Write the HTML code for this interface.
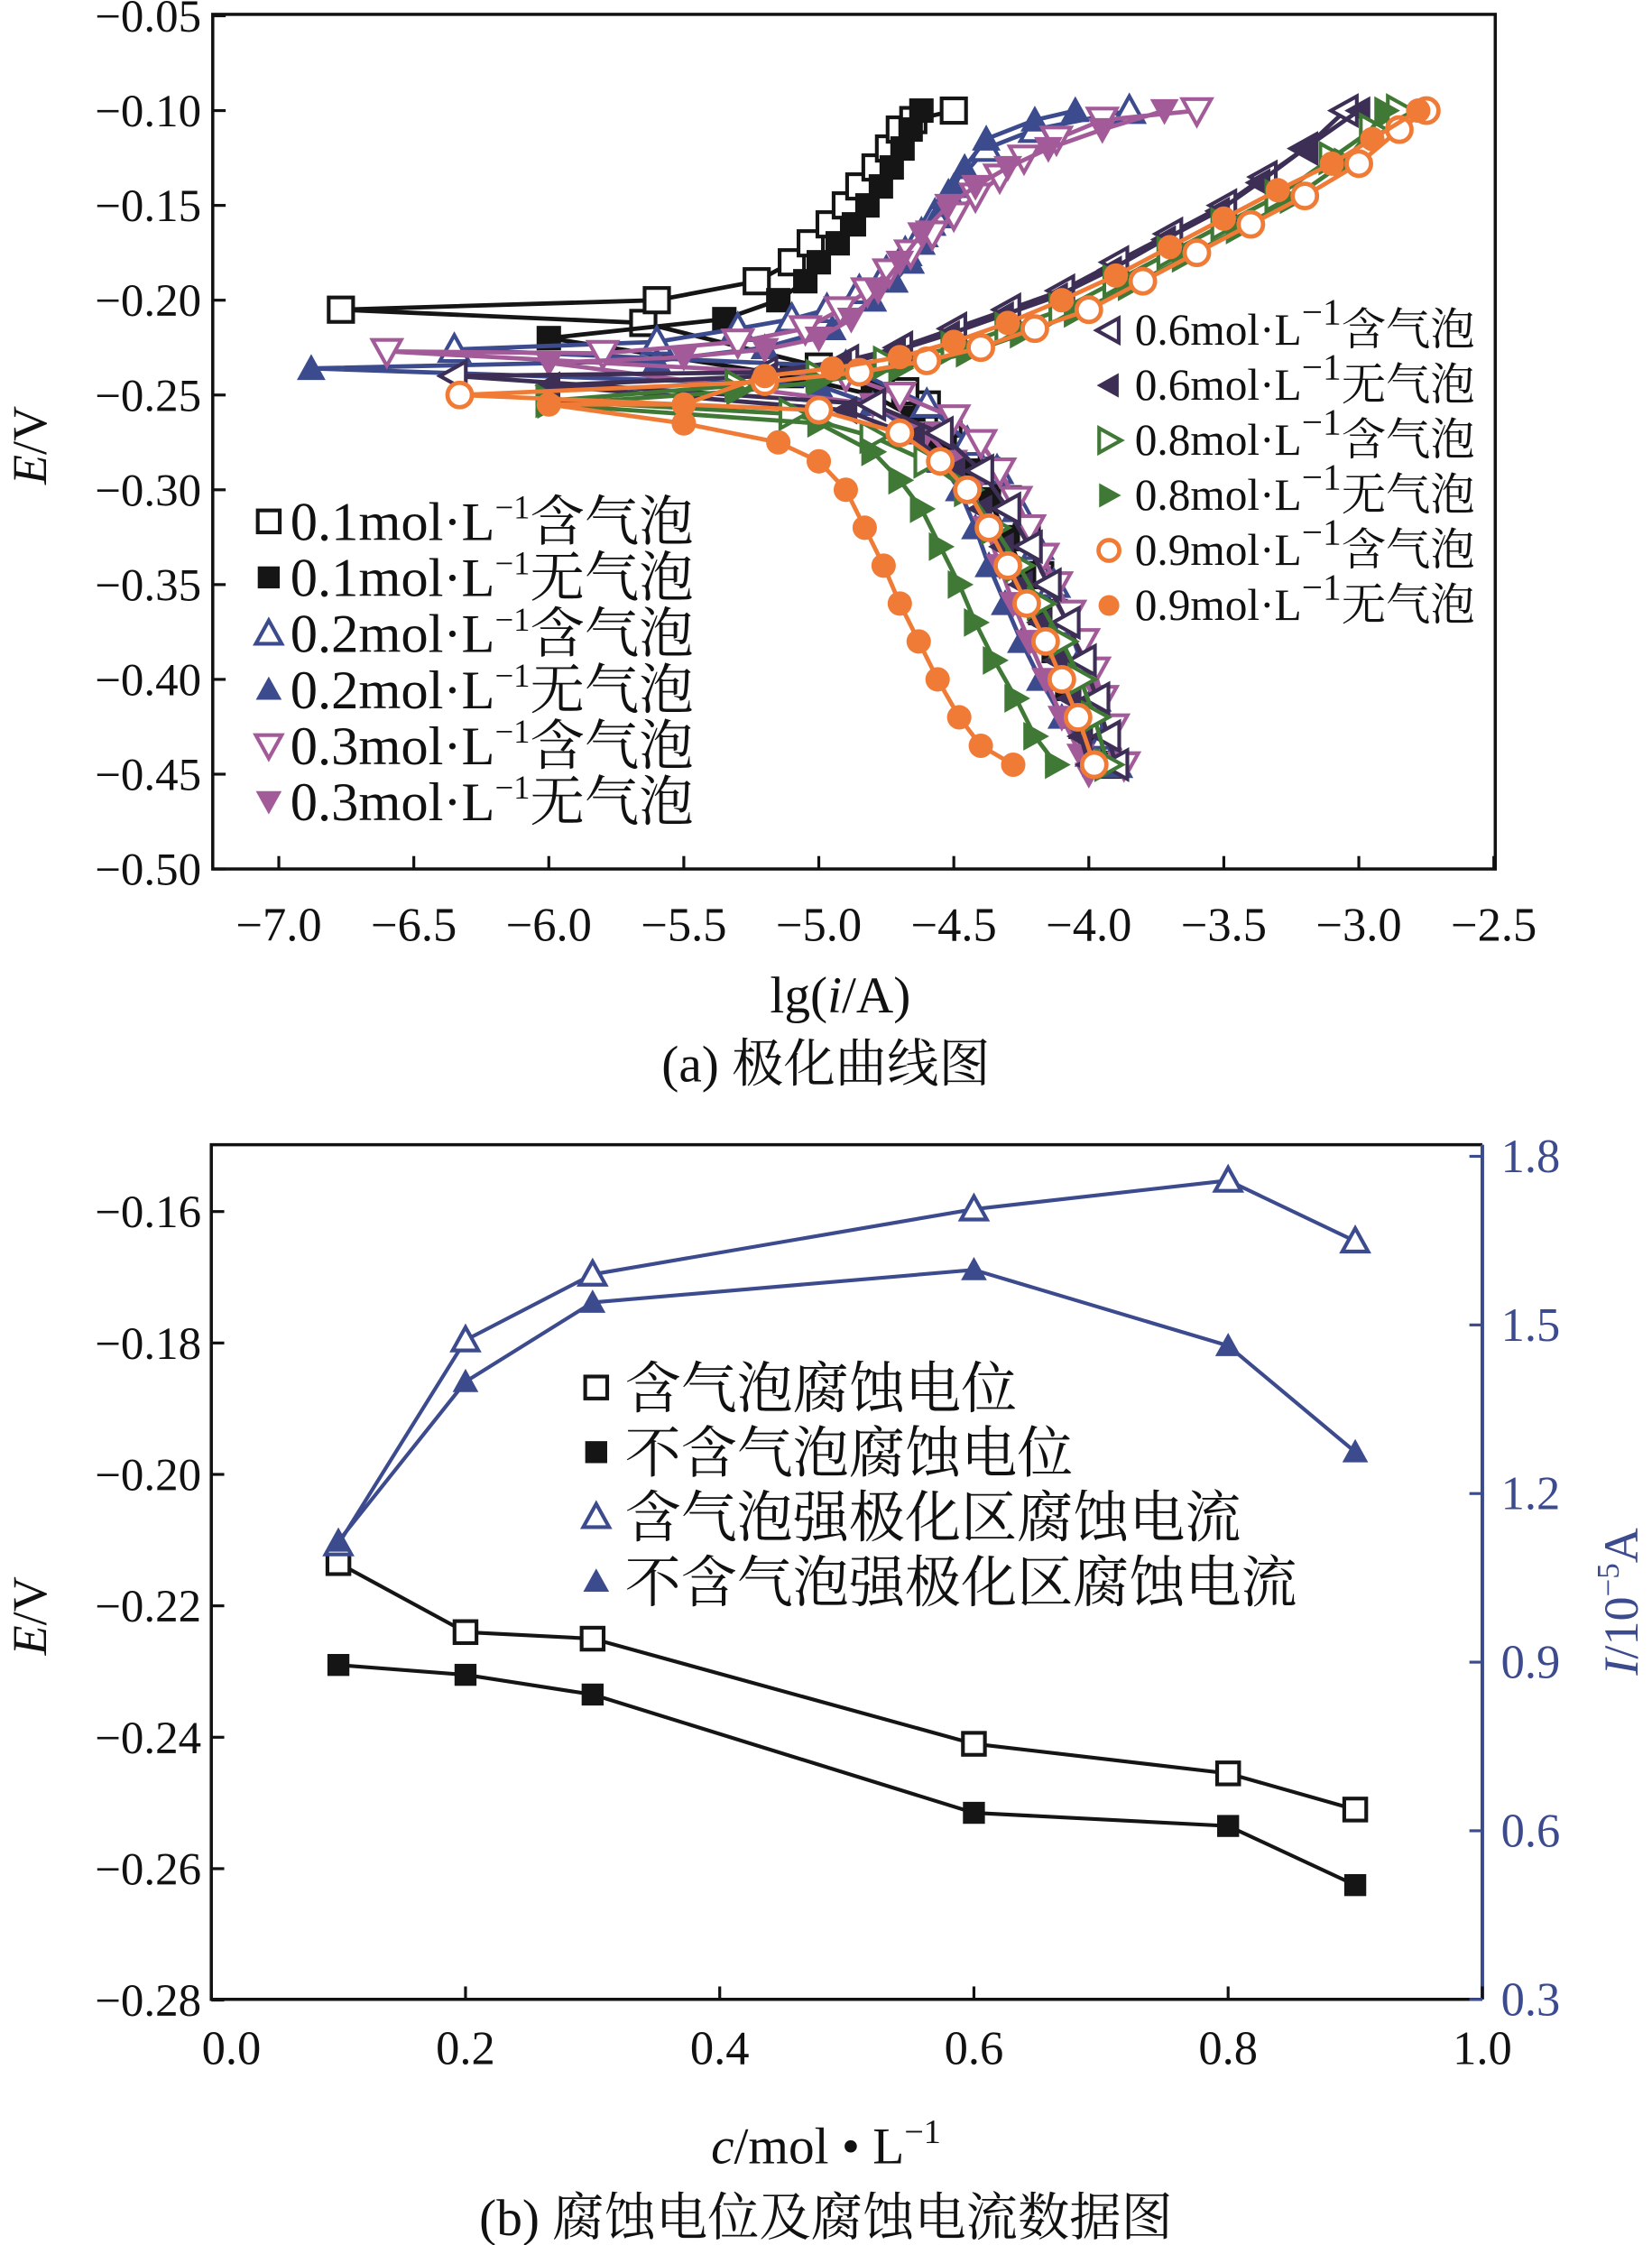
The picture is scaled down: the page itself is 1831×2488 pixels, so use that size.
<!DOCTYPE html>
<html><head><meta charset="utf-8"><style>
html,body{margin:0;padding:0;background:#fff;}
svg{display:block;}
text{font-family:"Liberation Serif","Noto Serif CJK SC","Noto Sans CJK SC",serif;fill:#111;}
</style></head><body>
<svg id="fig" width="1831" height="2488" viewBox="0 0 1150 1563" xmlns="http://www.w3.org/2000/svg">
<g id="top"></g>
<g id="bot"></g>
</svg>
<script>
// ---------- Chart (a) data ----------
const xTicksA = [-7.0,-6.5,-6.0,-5.5,-5.0,-4.5,-4.0,-3.5,-3.0,-2.5];
const yTicksA = [-0.05,-0.10,-0.15,-0.20,-0.25,-0.30,-0.35,-0.40,-0.45,-0.50];
const seriesNames = ["0.1-bubble","0.1-nobubble","0.2-bubble","0.2-nobubble","0.3-bubble","0.3-nobubble","0.6-bubble","0.6-nobubble","0.8-bubble","0.8-nobubble","0.9-bubble","0.9-nobubble"];
const lgI_01b = [-3.93,-3.98,-4.03,-4.08,-4.13,-4.18,-4.23,-4.30,-4.38,-4.45,-4.52,-4.60,-4.68,-5.0,-5.65,-6.77,-5.60,-5.23,-5.10,-5.03,-4.96,-4.90,-4.85,-4.79,-4.74,-4.70,-4.65,-4.50];
const E_01b   = [-0.445,-0.425,-0.405,-0.385,-0.365,-0.345,-0.325,-0.305,-0.29,-0.278,-0.265,-0.255,-0.248,-0.235,-0.212,-0.205,-0.200,-0.190,-0.180,-0.170,-0.160,-0.150,-0.140,-0.130,-0.120,-0.110,-0.105,-0.100];
const lgI_01n = [-3.98,-4.03,-4.08,-4.13,-4.18,-4.24,-4.30,-4.37,-4.45,-4.55,-4.65,-4.8,-5.1,-6.0,-5.35,-5.15,-5.05,-5.0,-4.93,-4.87,-4.82,-4.77,-4.73,-4.69,-4.66,-4.62];
const E_01n   = [-0.445,-0.425,-0.405,-0.385,-0.365,-0.345,-0.325,-0.305,-0.29,-0.275,-0.262,-0.25,-0.24,-0.22,-0.21,-0.20,-0.19,-0.18,-0.17,-0.16,-0.15,-0.14,-0.13,-0.12,-0.11,-0.10];
const lgI_02b = [-3.9,-3.94,-3.98,-4.03,-4.08,-4.13,-4.19,-4.26,-4.34,-4.45,-4.6,-4.9,-6.35,-5.6,-5.3,-5.1,-4.97,-4.85,-4.75,-4.68,-4.62,-4.57,-4.52,-4.47,-4.38,-4.2,-3.85];
const E_02b   = [-0.445,-0.43,-0.41,-0.39,-0.37,-0.35,-0.33,-0.31,-0.29,-0.275,-0.255,-0.235,-0.226,-0.222,-0.215,-0.21,-0.205,-0.195,-0.185,-0.175,-0.165,-0.155,-0.145,-0.135,-0.12,-0.11,-0.10];
const lgI_02n = [-3.95,-4.0,-4.1,-4.18,-4.25,-4.31,-4.37,-4.42,-4.48,-4.55,-4.65,-4.8,-5.0,-6.88,-5.6,-5.2,-4.95,-4.8,-4.72,-4.66,-4.62,-4.58,-4.54,-4.50,-4.46,-4.38,-4.2,-4.05];
const E_02n   = [-0.445,-0.44,-0.42,-0.40,-0.38,-0.36,-0.34,-0.32,-0.30,-0.285,-0.27,-0.255,-0.245,-0.236,-0.232,-0.225,-0.215,-0.20,-0.19,-0.18,-0.17,-0.16,-0.15,-0.14,-0.13,-0.115,-0.105,-0.10];
const lgI_03b = [-3.87,-3.91,-3.95,-3.98,-4.02,-4.07,-4.12,-4.17,-4.22,-4.27,-4.33,-4.4,-4.5,-4.7,-4.9,-6.6,-5.8,-5.3,-5.05,-4.92,-4.82,-4.74,-4.66,-4.58,-4.5,-4.42,-4.33,-4.24,-4.12,-3.95,-3.6];
const E_03b   = [-0.445,-0.425,-0.41,-0.395,-0.38,-0.365,-0.35,-0.335,-0.32,-0.305,-0.29,-0.275,-0.262,-0.25,-0.24,-0.227,-0.228,-0.222,-0.215,-0.205,-0.195,-0.185,-0.175,-0.165,-0.155,-0.145,-0.135,-0.125,-0.115,-0.105,-0.10];
const lgI_03n = [-4.0,-4.03,-4.1,-4.16,-4.22,-4.28,-4.33,-4.38,-4.43,-4.5,-4.6,-4.8,-6.0,-5.5,-5.2,-5.0,-4.88,-4.78,-4.7,-4.62,-4.52,-4.42,-4.3,-4.15,-3.95,-3.72];
const E_03n   = [-0.45,-0.44,-0.42,-0.40,-0.38,-0.36,-0.34,-0.32,-0.30,-0.285,-0.27,-0.255,-0.233,-0.23,-0.226,-0.22,-0.21,-0.195,-0.18,-0.165,-0.15,-0.14,-0.13,-0.12,-0.11,-0.10];
const lgI_06b = [-3.9,-3.93,-3.97,-4.02,-4.08,-4.15,-4.22,-4.3,-4.4,-4.55,-4.8,-6.35,-5.2,-4.9,-4.7,-4.5,-4.3,-4.1,-3.9,-3.7,-3.5,-3.35,-3.2,-3.05];
const E_06b   = [-0.445,-0.43,-0.41,-0.39,-0.37,-0.35,-0.33,-0.31,-0.29,-0.27,-0.255,-0.24,-0.238,-0.232,-0.225,-0.215,-0.205,-0.195,-0.18,-0.165,-0.15,-0.135,-0.12,-0.10];
const lgI_06n = [-4.0,-4.03,-4.07,-4.12,-4.18,-4.25,-4.32,-4.4,-4.5,-4.65,-4.9,-6.0,-5.2,-4.92,-4.72,-4.52,-4.32,-4.12,-3.92,-3.72,-3.52,-3.37,-3.2,-3.0];
const E_06n   = [-0.445,-0.43,-0.41,-0.39,-0.37,-0.35,-0.33,-0.31,-0.29,-0.272,-0.258,-0.245,-0.24,-0.234,-0.227,-0.218,-0.208,-0.198,-0.184,-0.168,-0.153,-0.138,-0.12,-0.10];
const lgI_08b = [-3.93,-3.98,-4.03,-4.1,-4.18,-4.26,-4.35,-4.45,-4.6,-4.8,-5.1,-6.0,-5.3,-5.0,-4.75,-4.5,-4.3,-4.1,-3.9,-3.7,-3.5,-3.3,-3.1,-2.95,-2.85];
const E_08b   = [-0.445,-0.42,-0.40,-0.38,-0.36,-0.34,-0.32,-0.30,-0.285,-0.272,-0.26,-0.253,-0.245,-0.24,-0.233,-0.225,-0.215,-0.205,-0.19,-0.175,-0.16,-0.145,-0.125,-0.11,-0.10];
const lgI_08n = [-4.12,-4.2,-4.27,-4.35,-4.42,-4.48,-4.55,-4.62,-4.7,-4.8,-5.0,-6.0,-5.3,-5.0,-4.7,-4.45,-4.25,-4.05,-3.85,-3.65,-3.45,-3.25,-3.05,-2.9];
const E_08n   = [-0.445,-0.43,-0.41,-0.39,-0.37,-0.35,-0.33,-0.31,-0.295,-0.28,-0.265,-0.255,-0.248,-0.243,-0.236,-0.228,-0.218,-0.207,-0.193,-0.178,-0.163,-0.147,-0.127,-0.10];
const lgI_09b = [-3.98,-4.04,-4.1,-4.16,-4.23,-4.3,-4.37,-4.45,-4.55,-4.7,-5.0,-6.33,-5.2,-4.85,-4.6,-4.4,-4.2,-4.0,-3.8,-3.6,-3.4,-3.2,-3.0,-2.85,-2.75];
const E_09b   = [-0.445,-0.42,-0.40,-0.38,-0.36,-0.34,-0.32,-0.30,-0.285,-0.27,-0.258,-0.25,-0.243,-0.238,-0.232,-0.225,-0.215,-0.205,-0.19,-0.175,-0.16,-0.145,-0.128,-0.11,-0.10];
const lgI_09n = [-4.28,-4.4,-4.48,-4.56,-4.63,-4.7,-4.76,-4.83,-4.9,-5.0,-5.15,-5.5,-6.0,-5.5,-5.2,-4.95,-4.7,-4.5,-4.3,-4.1,-3.9,-3.7,-3.5,-3.3,-3.1,-2.95,-2.78];
const E_09n   = [-0.445,-0.435,-0.42,-0.40,-0.38,-0.36,-0.34,-0.32,-0.30,-0.285,-0.275,-0.265,-0.255,-0.255,-0.24,-0.236,-0.23,-0.222,-0.212,-0.20,-0.187,-0.172,-0.157,-0.142,-0.128,-0.115,-0.10];

// ---------- Chart (b) data ----------
const concTicks = [0.0,0.2,0.4,0.6,0.8,1.0];
const eTicksB = [-0.16,-0.18,-0.20,-0.22,-0.24,-0.26,-0.28];
const iTicksB = [0.3,0.6,0.9,1.2,1.5,1.8];
const conc = [0.1,0.2,0.3,0.6,0.8,0.9];
const eBubble = [-0.2135,-0.224,-0.225,-0.241,-0.2455,-0.251];
const eNoBubble = [-0.229,-0.2305,-0.2335,-0.2515,-0.2535,-0.2625];
const iBubble = [1.11,1.473,1.59,1.706,1.757,1.649];
const iNoBubble = [1.115,1.399,1.54,1.598,1.463,1.274];

const NS="http://www.w3.org/2000/svg";
function mk(tag,attrs,parent){const e=document.createElementNS(NS,tag);for(const k in attrs)e.setAttribute(k,attrs[k]);parent.appendChild(e);return e;}
function txt(s,x,y,size,anchor,parent,fill){const t=mk('text',{x:x,y:y,'font-size':size,'text-anchor':anchor||'middle'},parent);if(fill)t.setAttribute('style','fill:'+fill);t.textContent=s;return t;}
function fmt(v,d){return (v<0?'\u2212':'')+Math.abs(v).toFixed(d);}

function marker(shape,filled,color,x,y,s,parent){
  let el;const f=filled?color:'#fff';const sw=filled?0:2.6;
  const h=s/2;
  if(shape==='sq') el=mk('rect',{x:x-h*0.85,y:y-h*0.85,width:s*0.85,height:s*0.85,fill:f,stroke:color,'stroke-width':sw},parent);
  else if(shape==='ci') el=mk('circle',{cx:x,cy:y,r:h*0.85,fill:f,stroke:color,'stroke-width':filled?0:3},parent);
  else {
    let p;
    if(shape==='up') p=[[x,y-h],[x+h,y+h*0.8],[x-h,y+h*0.8]];
    else if(shape==='dn') p=[[x,y+h],[x+h,y-h*0.8],[x-h,y-h*0.8]];
    else if(shape==='lt') p=[[x-h,y],[x+h*0.8,y-h],[x+h*0.8,y+h]];
    else p=[[x+h,y],[x-h*0.8,y-h],[x-h*0.8,y+h]];
    el=mk('polygon',{points:p.map(q=>q.join(',')).join(' '),fill:f,stroke:color,'stroke-width':sw},parent);
  }
  return el;
}

// ---------- draw chart (a) ----------
(function(){
  const g=document.getElementById('top');
  const L=148,R=1041,T=10,B=605;
  const X=v=>194+(v+7)*188;
  const Y=e=>77-(e+0.10)*1320;
  const frame=mk('rect',{x:L,y:T,width:R-L,height:B-T,fill:'none',stroke:'#111','stroke-width':2.2},g);
  
  
  xTicksA.forEach(v=>{
    const tk=mk('line',{x1:X(v),x2:X(v),y1:B,y2:B-9,stroke:'#111','stroke-width':2},g);
    
    
    const t=txt(fmt(v,1),X(v),B+50,33,'middle',g);
    
    
  });
  yTicksA.forEach(v=>{
    const tk=mk('line',{x1:L,x2:L+9,y1:Y(v),y2:Y(v),stroke:'#111','stroke-width':2},g);
    
    
    const t=txt(fmt(v,2),140,Y(v)+11,32,'end',g);
    
    
  });
  const series=[
    [lgI_01b,E_01b,'sq',false,'#151515'],[lgI_01n,E_01n,'sq',true,'#151515'],
    [lgI_02b,E_02b,'up',false,'#3c4a8e'],[lgI_02n,E_02n,'up',true,'#3c4a8e'],
    [lgI_03b,E_03b,'dn',false,'#a25a98'],[lgI_03n,E_03n,'dn',true,'#a25a98'],
    [lgI_06b,E_06b,'lt',false,'#3d2e55'],[lgI_06n,E_06n,'lt',true,'#3d2e55'],
    [lgI_08b,E_08b,'rt',false,'#3f7935'],[lgI_08n,E_08n,'rt',true,'#3f7935'],
    [lgI_09b,E_09b,'ci',false,'#ef7b36'],[lgI_09n,E_09n,'ci',true,'#ef7b36']];
  series.forEach((s,i)=>{
    const sg=mk('g',{},g);
    
    
    const pts=s[0].map((v,k)=>X(v).toFixed(1)+','+Y(s[1][k]).toFixed(1)).join(' ');
    const pl=mk('polyline',{points:pts,fill:'none',stroke:s[4],'stroke-width':3},sg);
    
    
    s[0].forEach((v,k)=>{
      const m=marker(s[2],s[3],s[4],X(v),Y(s[1][k]),20,sg);
      
      
    });
  });
  // legends
  const legL=[['sq',false,'#151515','0.1'],['sq',true,'#151515','0.1'],['up',false,'#3c4a8e','0.2'],['up',true,'#3c4a8e','0.2'],['dn',false,'#a25a98','0.3'],['dn',true,'#a25a98','0.3']];
  const lg=mk('g',{},g);
  
  
  legL.forEach((d,i)=>{
    const y=363+i*39;
    const m=marker(d[0],d[1],d[2],187,y,18,lg);
    
    
    const t=mk('text',{x:202,y:y+13,'font-size':38},lg);
    
    
    t.innerHTML=d[3]+'mol\u00b7L<tspan dy="-15" font-size="23">\u22121</tspan><tspan dy="15">'+(d[1]?'无气泡':'含气泡')+'</tspan>';
  });
  const legR=[['lt',false,'#3d2e55','0.6'],['lt',true,'#3d2e55','0.6'],['rt',false,'#3f7935','0.8'],['rt',true,'#3f7935','0.8'],['ci',false,'#ef7b36','0.9'],['ci',true,'#ef7b36','0.9']];
  const rg=mk('g',{},g);
  
  
  legR.forEach((d,i)=>{
    const y=230+i*38.3;
    const m=marker(d[0],d[1],d[2],772,y,17,rg);
    
    
    const t=mk('text',{x:790,y:y+10,'font-size':31},rg);
    
    
    t.innerHTML=d[3]+'mol\u00b7L<tspan dy="-14" font-size="26">\u22121</tspan><tspan dy="14">'+(d[1]?'无气泡':'含气泡')+'</tspan>';
  });
  const yl=mk('text',{x:0,y:0,'font-size':34,'text-anchor':'middle',transform:'translate(32,310) rotate(-90)'},g);
  
  
  yl.innerHTML='<tspan font-style="italic">E</tspan>/V';
  const xl=mk('text',{x:585,y:705,'font-size':36,'text-anchor':'middle'},g);
  
  
  xl.innerHTML='lg(<tspan font-style="italic">i</tspan>/A)';
  const cap=txt('(a) 极化曲线图',575,753,36,'middle',g);
  
  
})();

// ---------- draw chart (b) ----------
(function(){
  const g=document.getElementById('bot');
  const L=147,R=1032,T=797,B=1392;
  const X=c=>147+c*885;
  const YE=e=>843.5+(-0.16-e)*4575;
  const YI=v=>1392-(v-0.3)*391.3;
  const blue='#3c4a8e';
  const fr=mk('path',{d:`M${R},${T} H${L} V${B} H${R}`,fill:'none',stroke:'#111','stroke-width':2.2},g);
  
  
  const ra=mk('line',{x1:R,x2:R,y1:T,y2:B,stroke:blue,'stroke-width':2.5},g);
  
  
  concTicks.forEach(v=>{
    const tk=mk('line',{x1:X(v),x2:X(v),y1:B,y2:B-9,stroke:'#111','stroke-width':2},g);
    
    
    const t=txt(v.toFixed(1),X(v)+(v===0?14:0),B+45,33,'middle',g);
    
    
  });
  eTicksB.forEach(v=>{
    const tk=mk('line',{x1:L,x2:L+9,y1:YE(v),y2:YE(v),stroke:'#111','stroke-width':2},g);
    
    
    const t=txt(fmt(v,2),140,YE(v)+11,32,'end',g);
    
    
  });
  iTicksB.forEach(v=>{
    const tk=mk('line',{x1:R,x2:R-9,y1:YI(v),y2:YI(v),stroke:blue,'stroke-width':2},g);
    
    
    const t=txt(v.toFixed(1),1045,YI(v)+11,33,'start',g,blue);
    
    
  });
  const ser=[[eBubble,YE,'sq',false,'#151515','e-bubble'],[eNoBubble,YE,'sq',true,'#151515','e-nobubble'],[iBubble,YI,'up',false,blue,'i-bubble'],[iNoBubble,YI,'up',true,blue,'i-nobubble']];
  ser.forEach(s=>{
    const sg=mk('g',{},g);
    
    
    const pl=mk('polyline',{points:conc.map((c,k)=>X(c)+','+s[1](s[0][k])).join(' '),fill:'none',stroke:s[4],'stroke-width':2.6},sg);
    
    
    conc.forEach((c,k)=>{
      const m=marker(s[2],s[3],s[4],X(c),s[1](s[0][k]),18,sg);
      
      
    });
  });
  const leg=[['sq',false,'#151515','含气泡腐蚀电位'],['sq',true,'#151515','不含气泡腐蚀电位'],['up',false,blue,'含气泡强极化区腐蚀电流'],['up',true,blue,'不含气泡强极化区腐蚀电流']];
  const lg=mk('g',{},g);
  
  
  leg.forEach((d,i)=>{
    const y=966+i*45;
    const m=marker(d[0],d[1],d[2],415,y,18,lg);
    
    
    const t=txt(d[3],435,y+14,39,'start',lg);
    
    
  });
  const yl=mk('text',{x:0,y:0,'font-size':34,'text-anchor':'middle',transform:'translate(32,1125) rotate(-90)'},g);
  
  
  yl.innerHTML='<tspan font-style="italic">E</tspan>/V';
  const yr=mk('text',{x:0,y:0,'font-size':34,'text-anchor':'middle',transform:'translate(1140,1115) rotate(-90)',style:'fill:'+blue},g);
  
  
  yr.innerHTML='<tspan font-style="italic">I</tspan>/10<tspan dy="-13" font-size="22">\u22125</tspan><tspan dy="13">A</tspan>';
  const xl=mk('text',{x:575,y:1506,'font-size':36,'text-anchor':'middle'},g);
  
  
  xl.innerHTML='<tspan font-style="italic">c</tspan>/mol \u2022 L<tspan dy="-14" font-size="24">\u22121</tspan>';
  const cap=txt('(b) 腐蚀电位及腐蚀电流数据图',575,1556,36,'middle',g);
  
  
})();
</script>
</body></html>
